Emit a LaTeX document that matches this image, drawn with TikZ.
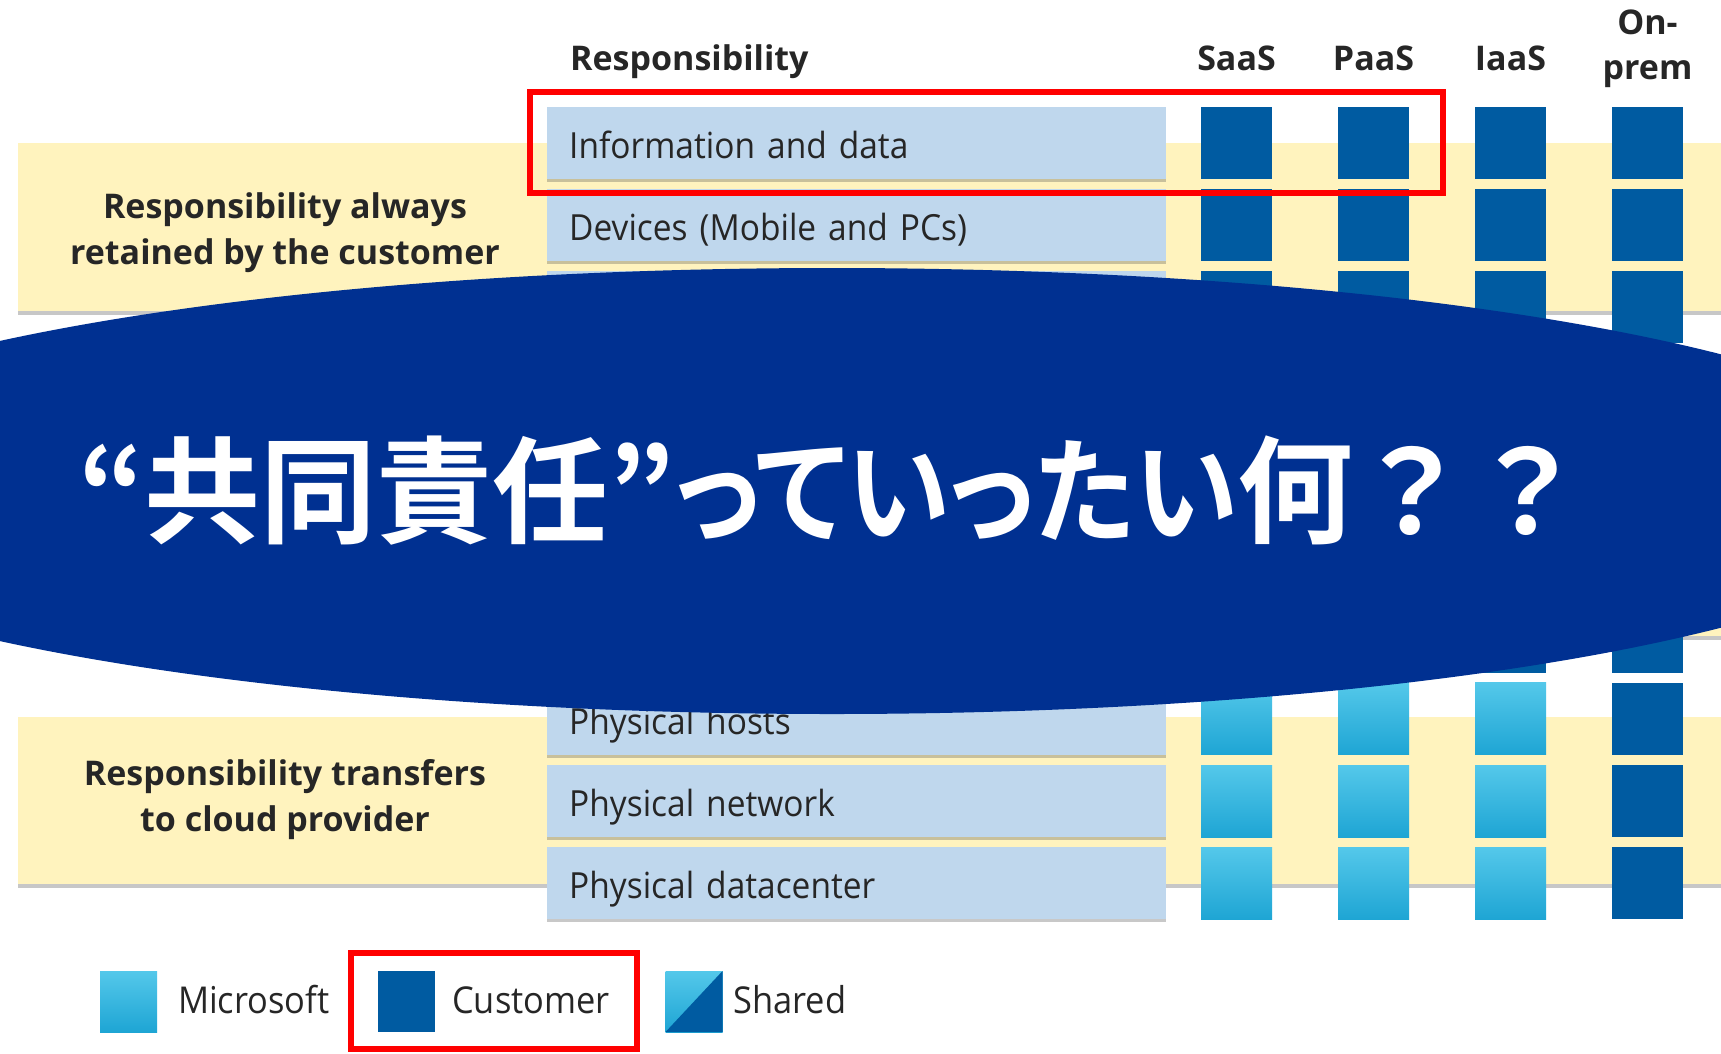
\documentclass[tikz,border=0pt]{standalone}
\usepackage{fontspec}
\setmainfont{Open Sans}
\newfontfamily\rowfont[FakeStretch=0.93]{Open Sans}
\newfontfamily\jpfont[RawFeature=+palt,BoldFont={Noto Sans CJK JP Bold}]{Noto Sans CJK JP}
\newfontfamily\jpkana[RawFeature=+palt,FakeStretch=0.9,BoldFont={Noto Sans CJK JP Bold}]{Noto Sans CJK JP}
\newfontfamily\jpfull[BoldFont={Noto Sans CJK JP Bold}]{Noto Sans CJK JP}
\usetikzlibrary{shapes.geometric,shadows}

\definecolor{custblue}{RGB}{0,91,161}
\definecolor{mslight}{RGB}{84,200,234}
\definecolor{msdark}{RGB}{30,165,212}
\definecolor{rowblue}{RGB}{191,215,237}
\definecolor{bandyellow}{RGB}{255,243,190}
\definecolor{bannerblue}{RGB}{0,48,145}
\definecolor{markred}{RGB}{255,0,0}
\definecolor{inkgray}{RGB}{38,38,38}

\begin{document}
\begin{tikzpicture}
  [x=1pt,y=-1pt,
   every node/.style={inner sep=0pt,text=inkgray},
   head/.style={anchor=base,font=\fontsize{34}{45}\selectfont\bfseries},
   bandlabel/.style={align=center,font=\fontsize{34}{46}\selectfont\bfseries},
   rowbox/.style={anchor=north west,fill=rowblue,minimum height=72pt,text width=575pt,
     inner xsep=22pt,align=left,font=\rowfont\fontsize{36}{40}\selectfont,
     text height=33pt,text depth=2pt,
     drop shadow={shadow xshift=0pt,shadow yshift=-3pt,fill=black!70,opacity=.3}},
   tile/.style={anchor=north west,minimum width=71pt,minimum height=72pt},
   tilecu/.style={tile,fill=custblue},
   tilems/.style={tile,top color=mslight,bottom color=msdark},
   tilesh/.style={tile,top color=mslight,bottom color=msdark,path picture={
       \fill[custblue] (path picture bounding box.south west) -- (path picture bounding box.north east)
         -- (path picture bounding box.south east) -- cycle;}},
   key/.style={anchor=center,minimum width=57pt,minimum height=61pt},
   legtext/.style={anchor=base west,font=\rowfont\fontsize{37}{40}\selectfont},
   redmark/.style={draw=markred,line width=6pt}]

  \useasboundingbox (0,0) rectangle (1721,1053);
  \clip (0,0) rectangle (1721,1053);
  \fill[white] (0,0) rectangle (1721,1053);

  % yellow bands
  \foreach \ya/\yb in {143/311,389/636,717/884} {
    \fill[black!22] (18,\yb) rectangle (1721,\yb+4);
    \fill[bandyellow] (18,\ya) rectangle (1721,\yb);
  }
  \node[bandlabel] (keep) at (285,233) {Responsibility always\\retained by the customer};
  \node[bandlabel] (move) at (285,800) {Responsibility transfers\\to cloud provider};

  % headers
  \node[head,anchor=base west] (resp) at (570,70) {Responsibility};
  \foreach \k/\lbl in {0/SaaS,1/PaaS,2/IaaS}
    \node[head] (h\k) at ({1236.5+137*\k},70) {\lbl};
  \node[head,anchor=north,align=center] (h3) at (1647.5,10) {On-\\prem};

  % rows and tiles
  \foreach \i/\txt in {0/Information and data,1/Devices (Mobile and PCs),2/{},3/{},4/{},5/{},6/{},
                       7/Physical hosts,8/Physical network,9/Physical datacenter}
    \node[rowbox] (row\i) at (547,{106.5+82.3*\i}) {\txt};

  \foreach \i/\sa/\pa/\ia/\op in {0/cu/cu/cu/cu,1/cu/cu/cu/cu,2/cu/cu/cu/cu,3/sh/sh/cu/cu,4/ms/sh/cu/cu,
                                   5/ms/sh/cu/cu,6/ms/ms/cu/cu,7/ms/ms/ms/cu,8/ms/ms/ms/cu,9/ms/ms/ms/cu}
    \foreach \k/\kind in {0/\sa,1/\pa,2/\ia,3/\op}
      \node[tile\kind] (sq\i-\k) at ({1201+137*\k},{106.5+82.3*\i}) {};

  \draw[redmark] (530,92) rectangle (1443,193);

  % banner
  \node[ellipse,fill=bannerblue,minimum width=2250pt,minimum height=446pt,text=white,
        font=\jpfont\bfseries\fontsize{116}{120}\selectfont] (banner) at (832,491)
        {“共同責任”{\jpkana っていったい}何{\jpfull ？？}};

  % legend
  \node[tilems,key] (keyms) at (128.5,1001.5) {};
  \node[legtext] (keymstxt) at (178,1013) {Microsoft};
  \node[tilecu,key] (keycu) at (406,1001.5) {};
  \node[legtext] (keycutxt) at (452,1013) {Customer};
  \node[tilesh,key] (keysh) at (694,1001.5) {};
  \node[legtext] (keyshtxt) at (733,1013) {Shared};
  \draw[redmark] (351,953) rectangle (637,1049);
\end{tikzpicture}
\end{document}
